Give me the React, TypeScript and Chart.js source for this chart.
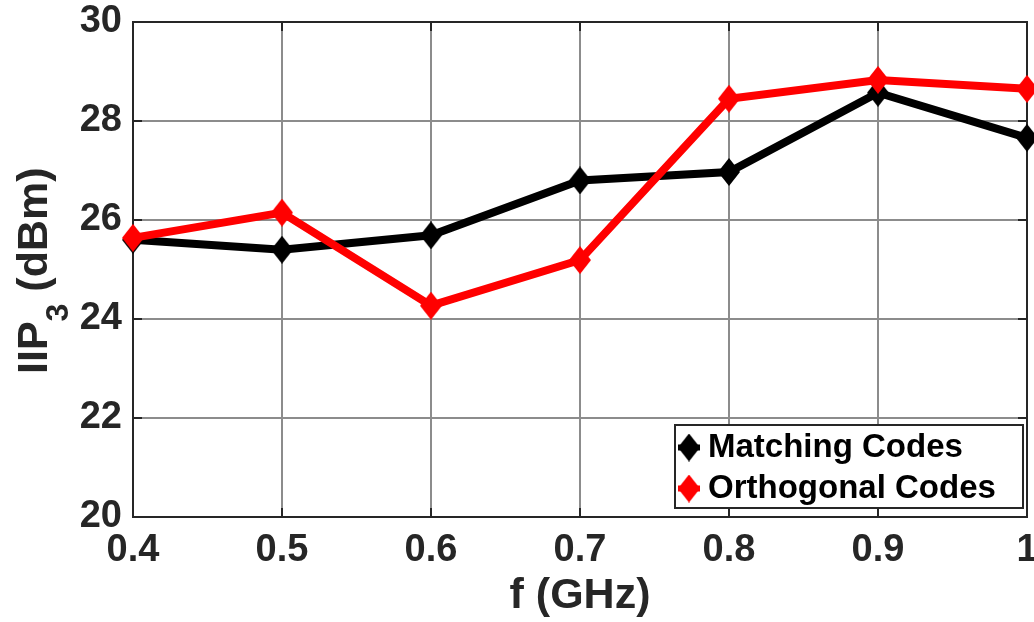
import React, { useEffect, useRef } from 'react';
import { Chart, registerables } from 'chart.js';

Chart.register(...registerables);

// ---- data ----
const frequencies = [0.4, 0.5, 0.6, 0.7, 0.8, 0.9, 1.0];
const matchingCodes = [25.6, 25.4, 25.69, 26.8, 26.97, 28.57, 27.66];
const orthogonalCodes = [25.64, 26.15, 24.27, 25.19, 28.45, 28.83, 28.65];
const seriesLabels = ['Matching Codes', 'Orthogonal Codes'];
const seriesColors = ['#000000', '#ff0000'];
const yTickValues = [20, 22, 24, 26, 28, 30];
const xTitle = 'f (GHz)';
const yTitleMain = 'IIP';
const yTitleSub = '3';
const yTitleRest = ' (dBm)';

const FONT = '"Liberation Sans", Arial, Helvetica, sans-serif';
const AXIS_COLOR = '#262626';

function makeDiamond(color: string, w: number, h: number): HTMLCanvasElement {
  const c = document.createElement('canvas');
  c.width = w;
  c.height = h;
  const g = c.getContext('2d')!;
  g.fillStyle = color;
  g.beginPath();
  g.moveTo(w / 2, 0);
  g.lineTo(w, h / 2);
  g.lineTo(w / 2, h);
  g.lineTo(0, h / 2);
  g.closePath();
  g.fill();
  return c;
}

const framePlugin = {
  id: 'matlabFrame',
  beforeDatasetsDraw(chart: any) {
    const { ctx, chartArea, scales } = chart;
    const { left, right, top, bottom } = chartArea;
    ctx.save();
    ctx.strokeStyle = AXIS_COLOR;
    ctx.lineWidth = 2;
    ctx.strokeRect(left, top, right - left, bottom - top);
    const tl = 9;
    ctx.beginPath();
    frequencies.forEach((v) => {
      const px = scales.x.getPixelForValue(v);
      ctx.moveTo(px, bottom);
      ctx.lineTo(px, bottom - tl);
      ctx.moveTo(px, top);
      ctx.lineTo(px, top + tl);
    });
    yTickValues.forEach((v) => {
      const py = scales.y.getPixelForValue(v);
      ctx.moveTo(left, py);
      ctx.lineTo(left + tl, py);
      ctx.moveTo(right, py);
      ctx.lineTo(right - tl, py);
    });
    ctx.stroke();
    ctx.restore();
  },
  afterDatasetsDraw(chart: any) {
    const { ctx, chartArea } = chart;
    const { right, bottom } = chartArea;
    const boxRight = right - 4;
    const boxBottom = bottom - 9;
    const boxW = 348;
    const boxH = 83;
    const boxLeft = boxRight - boxW;
    const boxTop = boxBottom - boxH;
    ctx.save();
    ctx.fillStyle = '#ffffff';
    ctx.fillRect(boxLeft, boxTop, boxW, boxH);
    ctx.strokeStyle = AXIS_COLOR;
    ctx.lineWidth = 2;
    ctx.strokeRect(boxLeft, boxTop, boxW, boxH);
    const baselines = [boxTop + 32, boxTop + 73];
    chart.data.datasets.forEach((ds: any, i: number) => {
      const bl = baselines[i];
      const cy = bl - 9.5;
      const cx = boxLeft + 14;
      ctx.strokeStyle = ds.borderColor;
      ctx.lineWidth = 6;
      ctx.beginPath();
      ctx.moveTo(cx - 11, cy);
      ctx.lineTo(cx + 11, cy);
      ctx.stroke();
      const img = makeDiamond(ds.borderColor, 22, 28);
      ctx.drawImage(img, cx - 11, cy - 14);
      ctx.fillStyle = '#000000';
      ctx.font = `bold 33px ${FONT}`;
      ctx.textAlign = 'left';
      ctx.textBaseline = 'alphabetic';
      ctx.fillText(ds.label, boxLeft + 33, bl);
    });
    ctx.restore();
  },
  afterDraw(chart: any) {
    const { ctx } = chart;
    ctx.save();
    ctx.translate(47, 374);
    ctx.rotate(-Math.PI / 2);
    ctx.fillStyle = AXIS_COLOR;
    ctx.textAlign = 'left';
    ctx.textBaseline = 'alphabetic';
    ctx.font = `bold 43px ${FONT}`;
    ctx.fillText(yTitleMain, 0, 0);
    let x = ctx.measureText(yTitleMain).width;
    ctx.font = `bold 32px ${FONT}`;
    ctx.fillText(yTitleSub, x, 21);
    x += ctx.measureText(yTitleSub).width;
    ctx.font = `bold 43px ${FONT}`;
    ctx.fillText(yTitleRest, x, 0);
    ctx.restore();
  },
};

export default function App() {
  const canvasRef = useRef<HTMLCanvasElement | null>(null);

  useEffect(() => {
    const canvas = canvasRef.current;
    if (!canvas) return;
    const blackDiamond = makeDiamond(seriesColors[0], 22, 28);
    const redDiamond = makeDiamond(seriesColors[1], 22, 28);
    const chart = new Chart(canvas, {
      type: 'line',
      data: {
        datasets: [
          {
            label: seriesLabels[0],
            data: frequencies.map((f, i) => ({ x: f, y: matchingCodes[i] })),
            borderColor: seriesColors[0],
            backgroundColor: seriesColors[0],
            borderWidth: 8,
            pointStyle: blackDiamond as any,
            pointRadius: 14,
            pointHoverRadius: 14,
            tension: 0,
            clip: false as any,
            order: 1,
          },
          {
            label: seriesLabels[1],
            data: frequencies.map((f, i) => ({ x: f, y: orthogonalCodes[i] })),
            borderColor: seriesColors[1],
            backgroundColor: seriesColors[1],
            borderWidth: 8,
            pointStyle: redDiamond as any,
            pointRadius: 14,
            pointHoverRadius: 14,
            tension: 0,
            clip: false as any,
            order: 0,
          },
        ],
      },
      options: {
        animation: false,
        responsive: false,
        maintainAspectRatio: false,
        events: [],
        layout: { autoPadding: false, padding: { left: 0, top: 22, right: 7, bottom: 0 } },
        plugins: {
          legend: { display: false },
          tooltip: { enabled: false },
          title: { display: false },
        },
        scales: {
          x: {
            type: 'linear',
            min: 0.4,
            max: 1.0,
            afterBuildTicks: (scale: any) => {
              scale.ticks = frequencies.map((v) => ({ value: v }));
            },
            afterFit: (scale: any) => {
              scale.height = 105;
              scale.paddingLeft = 0;
              scale.paddingRight = 0;
            },
            border: { display: false },
            grid: { color: '#8c8c8c', lineWidth: 2, drawTicks: false },
            ticks: {
              padding: 11,
              color: AXIS_COLOR,
              font: { family: FONT, size: 38, weight: 'bold' },
              callback: (v: any) => (Math.abs(Number(v) - 1) < 1e-9 ? '1' : Number(v).toFixed(1)),
              maxRotation: 0,
              autoSkip: false,
            },
            title: {
              display: true,
              text: xTitle,
              color: AXIS_COLOR,
              font: { family: FONT, size: 43, weight: 'bold' },
              padding: { top: 0, bottom: 0 },
            },
          },
          y: {
            type: 'linear',
            min: 20,
            max: 30,
            afterBuildTicks: (scale: any) => {
              scale.ticks = yTickValues.map((v) => ({ value: v }));
            },
            afterFit: (scale: any) => {
              scale.width = 133;
              scale.paddingTop = 0;
              scale.paddingBottom = 0;
            },
            border: { display: false },
            grid: { color: '#8c8c8c', lineWidth: 2, drawTicks: false },
            ticks: {
              padding: 11,
              color: AXIS_COLOR,
              font: { family: FONT, size: 38, weight: 'bold' },
              autoSkip: false,
            },
          },
        },
      } as any,
      plugins: [framePlugin],
    });
    return () => chart.destroy();
  }, []);

  return (
    <div style={{ position: 'fixed', left: 0, top: 0, width: 1034, height: 622, background: '#fff' }}>
      <canvas ref={canvasRef} width={1034} height={622} style={{ display: 'block' }} />
    </div>
  );
}
